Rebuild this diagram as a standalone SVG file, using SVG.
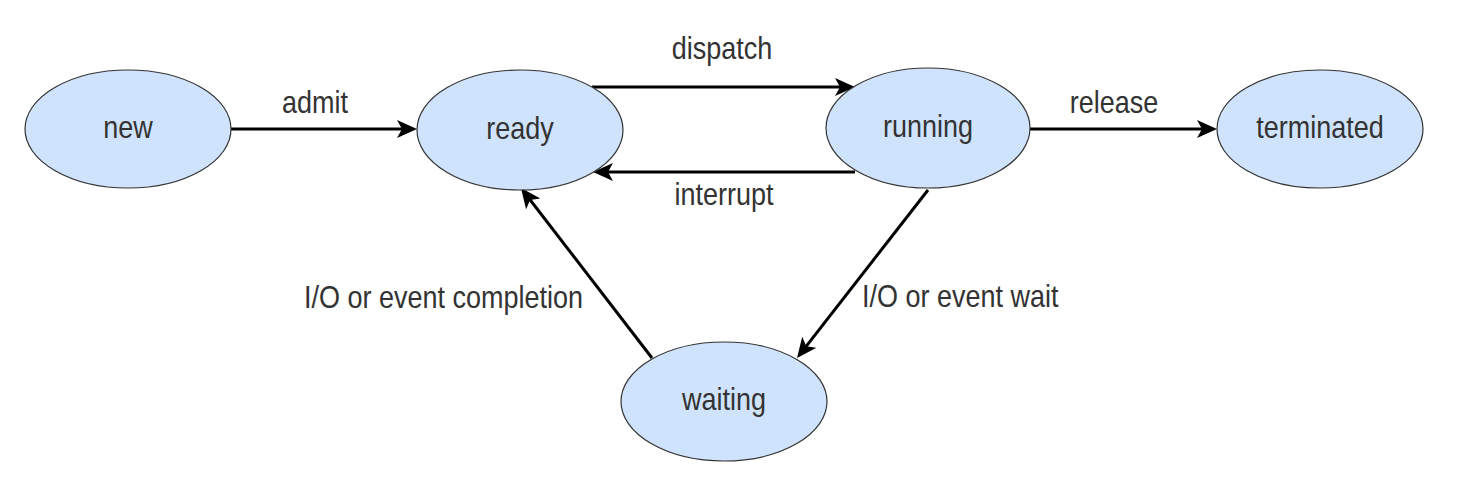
<svg xmlns="http://www.w3.org/2000/svg" width="1462" height="478" viewBox="0 0 1462 478">
<style>
.node ellipse{fill:#d0e3fc;stroke:#333;stroke-width:1.2}
.node text{font-family:"Liberation Sans",Arial,sans-serif;font-size:27px;fill:#333;text-anchor:middle}
.lbl{font-family:"Liberation Sans",Arial,sans-serif;font-size:27px;fill:#333}
.edge{stroke:#000;stroke-width:3;fill:none;marker-end:url(#arr)}
</style>
<defs>
<marker id="arr" markerUnits="userSpaceOnUse" markerWidth="20" markerHeight="18" refX="15" refY="9" orient="auto" viewBox="0 0 20 18">
<path d="M0,0 L20,9 L0,18 L5,9 Z" fill="#000"/>
</marker>
</defs>
<rect width="1462" height="478" fill="#fff"/>
<g id="connectors">
<path class="edge" d="M231,129 L412,129"/>
<path class="edge" d="M592,87 L850,87"/>
<path class="edge" d="M855,172 L598,172"/>
<path class="edge" d="M1030,129 L1212,129"/>
<path class="edge" d="M928,190 L800.1,354.1"/>
<path class="edge" d="M652,358 L524.05,191.96"/>
<text class="lbl" transform="translate(315,113) scale(1,1.15)" text-anchor="middle">admit</text>
<text class="lbl" transform="translate(722,59) scale(1,1.15)" text-anchor="middle">dispatch</text>
<text class="lbl" transform="translate(724,205) scale(1,1.15)" text-anchor="middle">interrupt</text>
<text class="lbl" transform="translate(1114,113) scale(1,1.15)" text-anchor="middle">release</text>
<text class="lbl" transform="translate(583,308) scale(1,1.15)" text-anchor="end">I/O or event completion</text>
<text class="lbl" transform="translate(862,307) scale(1,1.15)" text-anchor="start">I/O or event wait</text>
</g>
<g id="new" class="node"><ellipse cx="128" cy="129" rx="103" ry="59"/><text transform="translate(128,138) scale(1,1.15)">new</text></g>
<g id="ready" class="node"><ellipse cx="520" cy="130" rx="103" ry="60"/><text transform="translate(520,139) scale(1,1.15)">ready</text></g>
<g id="running" class="node"><ellipse cx="928" cy="128" rx="102" ry="60"/><text transform="translate(928,137) scale(1,1.15)">running</text></g>
<g id="terminated" class="node"><ellipse cx="1320" cy="129" rx="103" ry="59"/><text transform="translate(1320,138) scale(1,1.15)">terminated</text></g>
<g id="waiting" class="node"><ellipse cx="724" cy="401.5" rx="103" ry="59.5"/><text transform="translate(724,410) scale(1,1.15)">waiting</text></g>
</svg>
